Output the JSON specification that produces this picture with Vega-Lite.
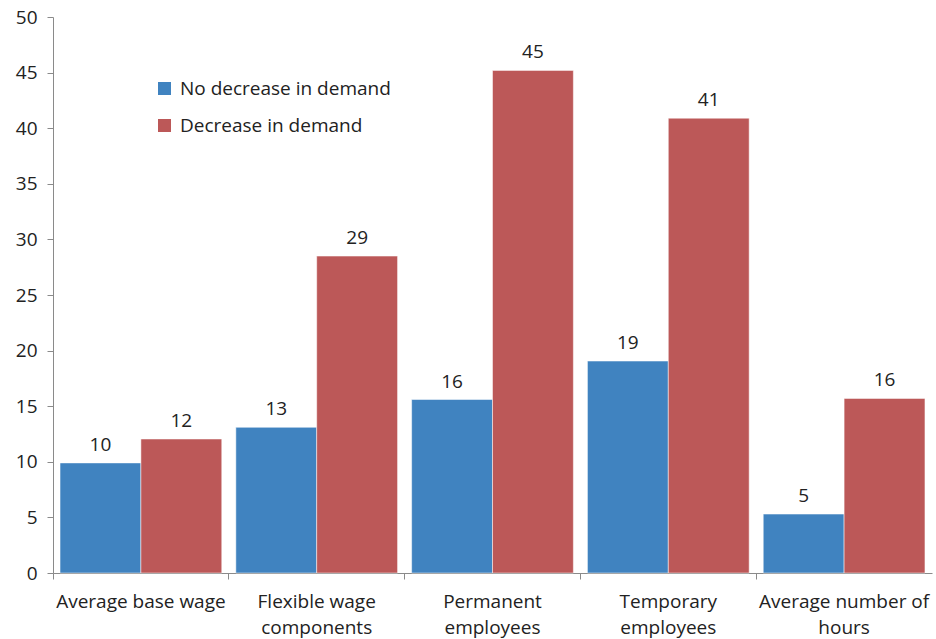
{
  "$schema": "https://vega.github.io/schema/vega-lite/v6.json",
  "width": 879,
  "height": 556,
  "autosize": {"type": "none"},
  "padding": {"left": 53, "top": 17, "right": 4, "bottom": 66},
  "background": "white",
  "config": {
    "view": {"stroke": null},
    "font": "Open Sans"
  },
  "data": {
    "values": [
      {"category": "Average base wage", "series": "No decrease in demand", "value": 9.9},
      {"category": "Average base wage", "series": "Decrease in demand", "value": 12.05},
      {"category": "Flexible wage components", "series": "No decrease in demand", "value": 13.1},
      {"category": "Flexible wage components", "series": "Decrease in demand", "value": 28.5},
      {"category": "Permanent employees", "series": "No decrease in demand", "value": 15.6},
      {"category": "Permanent employees", "series": "Decrease in demand", "value": 45.2},
      {"category": "Temporary employees", "series": "No decrease in demand", "value": 19.06},
      {"category": "Temporary employees", "series": "Decrease in demand", "value": 40.9},
      {"category": "Average number of hours", "series": "No decrease in demand", "value": 5.3},
      {"category": "Average number of hours", "series": "Decrease in demand", "value": 15.7}
    ]
  },
  "encoding": {
    "x": {
      "field": "category",
      "type": "nominal",
      "sort": null,
      "scale": {"paddingInner": 0, "paddingOuter": 0},
      "axis": {
        "title": null,
        "labelAngle": 0,
        "bandPosition": 0,
        "labelFontSize": 19,
        "labelColor": "#222222",
        "labelPadding": 13,
        "labelLineHeight": 26,
        "labelBaseline": "top",
        "labelLimit": 0,
        "tickSize": 6,
        "tickColor": "#8a8a8a",
        "domainColor": "#8a8a8a",
        "labelExpr": "datum.label == 'Flexible wage components' ? ['Flexible wage', 'components'] : datum.label == 'Permanent employees' ? ['Permanent', 'employees'] : datum.label == 'Temporary employees' ? ['Temporary', 'employees'] : datum.label == 'Average number of hours' ? ['Average number of', 'hours'] : datum.label"
      }
    },
    "xOffset": {
      "field": "series",
      "type": "nominal",
      "sort": ["No decrease in demand", "Decrease in demand"],
      "scale": {"paddingInner": 0, "paddingOuter": 0.087}
    },
    "y": {
      "field": "value",
      "type": "quantitative",
      "scale": {"domain": [0, 50], "nice": false},
      "axis": {
        "title": null,
        "grid": false,
        "values": [0, 5, 10, 15, 20, 25, 30, 35, 40, 45, 50],
        "labelFontSize": 19,
        "labelColor": "#222222",
        "labelPadding": 10,
        "tickSize": 6,
        "tickColor": "#8a8a8a",
        "domainColor": "#8a8a8a"
      }
    }
  },
  "layer": [
    {
      "mark": {"type": "bar", "stroke": "white", "strokeWidth": 0.5},
      "encoding": {
        "color": {
          "field": "series",
          "type": "nominal",
          "sort": ["No decrease in demand", "Decrease in demand"],
          "scale": {"domain": ["No decrease in demand", "Decrease in demand"], "range": ["#4083C0", "#BC5858"]},
          "legend": {
            "title": null,
            "orient": "none",
            "legendX": 102,
            "legendY": 62,
            "symbolType": "square",
            "symbolSize": 170,
            "symbolStrokeWidth": 0,
            "labelFontSize": 19,
            "labelColor": "#222222",
            "labelLimit": 0,
            "rowPadding": 17,
            "labelOffset": 6
          }
        }
      }
    },
    {
      "mark": {"type": "text", "baseline": "bottom", "dy": -8, "fontSize": 19, "color": "#222222"},
      "encoding": {
        "text": {"field": "value", "type": "quantitative", "format": ".0f"}
      }
    }
  ]
}
